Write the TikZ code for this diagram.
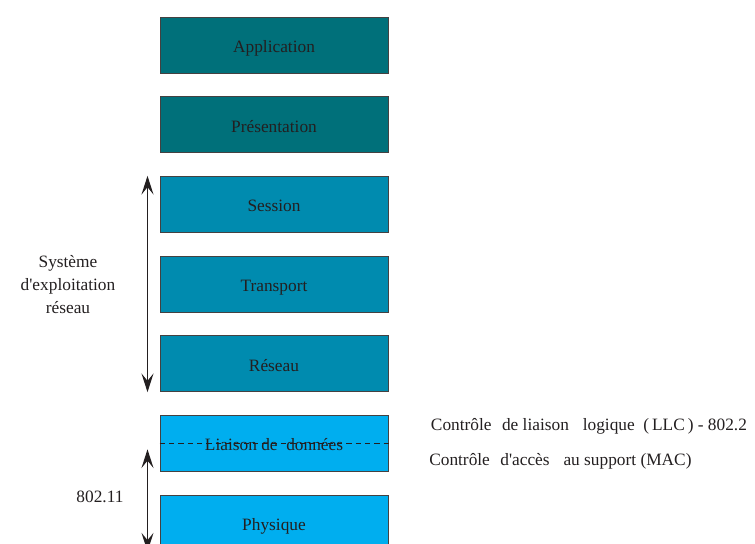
\documentclass[tikz,border=0pt]{standalone}
\usepackage{fontspec}
\setmainfont{Liberation Serif}
\usetikzlibrary{positioning,arrows.meta}
\definecolor{couchehaut}{RGB}{0,112,122}
\definecolor{couchemilieu}{RGB}{0,139,175}
\definecolor{couchebas}{RGB}{0,174,239}
\definecolor{encre}{RGB}{35,31,32}

\begin{document}
\begin{tikzpicture}[>={Stealth[length=14pt,width=9pt,inset=5.5pt]}, node distance=17pt,
  font=\fontsize{13}{17.25}\selectfont, text=encre,
  couche/.style={draw=encre!85, line width=0.75pt, minimum width=171pt, minimum height=42pt, inner sep=0pt, text height=11pt, text depth=0pt}]
  \useasboundingbox (0,0) rectangle (566.25pt,-407.25pt);
  % Nodes
  \node (app) [couche, fill=couchehaut] at (205.5pt,-33.75pt) {Application};
  \node (pres) [couche, fill=couchehaut, below=of app] {Présentation};
  \node (ses) [couche, fill=couchemilieu, below=of pres] {Session};
  \node (trans) [couche, fill=couchemilieu, below=of ses] {Transport};
  \node (res) [couche, fill=couchemilieu, below=of trans] {Réseau};
  \node (lia) [couche, fill=couchebas, below=of res] {Liaison de\ \ données};
  \node (phy) [couche, fill=couchebas, below=of lia] {Physique};

  \node (sys) [align=center] at (51pt,-213.75pt) {Système\\d\textquotesingle exploitation\\réseau};
  \node (wifi) at (75pt,-372.75pt) {802.11};
  \node (llc) [anchor=west, inner sep=0pt] at (323pt,-319.5pt) {Contrôle\hspace{0.6em}de liaison\hspace{0.8em}logique\hspace{0.5em}(\,LLC\,) - 802.2};
  \node (mac) [anchor=west, inner sep=0pt] at (321.75pt,-345.75pt) {Contrôle\hspace{0.6em}d\textquotesingle accès\hspace{0.8em}au support (MAC)};

  % Arrows
  \draw[<->, line width=1pt, encre] ([xshift=-9pt]ses.north west) -- ([xshift=-9pt]res.south west);
  \draw[encre, line width=0.7pt, dash pattern=on 4pt off 3pt] (lia.west) -- (lia.east);
  \draw[<->, line width=1pt, encre] ([xshift=-9pt,yshift=-4.5pt]lia.west) -- ([xshift=-9pt]phy.south west);
\end{tikzpicture}
\end{document}
